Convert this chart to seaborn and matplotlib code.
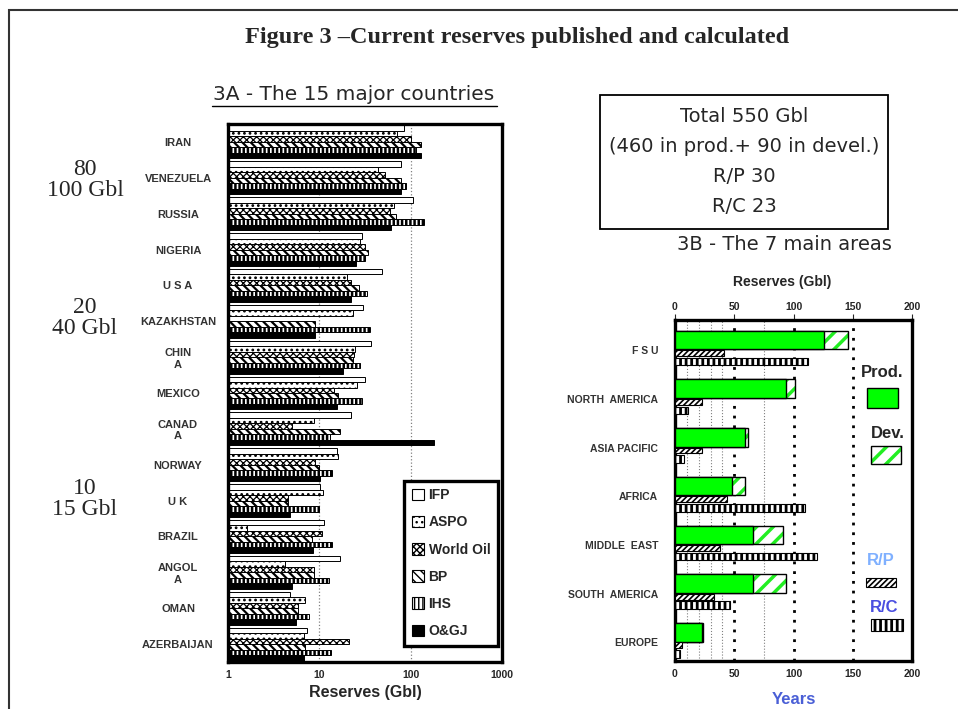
import numpy as np
import pandas as pd
import matplotlib.pyplot as plt
import seaborn as sns
from matplotlib.patches import Patch, Rectangle
from matplotlib.lines import Line2D

# ------------------------------
# Data - 3A: reserves of the 15 major countries (Gbl), per source
# ------------------------------
countries = ["IRAN", "VENEZUELA", "RUSSIA", "NIGERIA", "U S A", "KAZAKHSTAN", "CHIN\nA",
             "MEXICO", "CANAD\nA", "NORWAY", "U K", "BRAZIL", "ANGOL\nA", "OMAN", "AZERBAIJAN"]
sources = ["IFP", "ASPO", "World Oil", "BP", "IHS", "O&GJ"]

ifp = [85, 78, 105, 29, 48, 30, 37, 32, 22, 15.5, 10.2, 11.3, 17, 4.8, 7.3]
aspo = [70, 44, 66, 28, 20, 23.5, 24.5, 26, 8.7, 16, 11, 1.6, 4.2, 6.9, 6.8]
world_oil = [100, 52, 59, 32, 22, np.nan, 24, 14.5, 5, 9, 4.5, 10.7, 8.7, 5.8, 21]
bp = [130, 78, 69, 34, 27, 9, 23.5, 16, 17, 9.8, 4.5, 8.3, 8.7, 5.8, 6.9]
ihs = [115, 90, 140, 32, 33, 36, 28, 29, 13, 13.7, 9.8, 13.9, 12.9, 7.8, 13.4]
ogj = [130, 78, 61, 25, 22, 9, 18.3, 15.5, 178, 10.2, 4.8, 8.5, 5, 5.6, 6.8]

# ------------------------------
# Data - 3B: the 7 main areas
# ------------------------------
areas = ["F S U", "NORTH  AMERICA", "ASIA PACIFIC", "AFRICA", "MIDDLE  EAST", "SOUTH  AMERICA", "EUROPE"]
prod = [126, 94, 59, 48, 66, 66, 23]
dev = [20, 7, 3, 11, 25, 28, 1]
rp = [41, 23, 23, 44, 38, 33, 6]
rc = [112, 11, 8, 110, 120, 46, 4]

series = dict(zip(sources, [ifp, aspo, world_oil, bp, ihs, ogj]))
df = pd.DataFrame([(c, s, v[i]) for s, v in series.items() for i, c in enumerate(countries)],
                  columns=["country", "source", "value"])

sns.set_style("white")
plt.rcParams['font.family'] = ['Liberation Sans', 'DejaVu Sans']
plt.rcParams['hatch.linewidth'] = 1.0

W, H = 958, 709
fig = plt.figure(figsize=(W / 100, H / 100), dpi=100)

def fx(x):
    return x / W

def fy(y):
    return 1 - y / H

def hatch_lw(artist, lw):
    if hasattr(artist, "set_hatch_linewidth"):
        artist.set_hatch_linewidth(lw)

# ------------------------------
# 3A - horizontal grouped bars, log scale
# ------------------------------
ax1 = fig.add_axes([fx(228), fy(662), 274 / W, 538 / H])
face = {"IFP": "white", "ASPO": "white", "World Oil": "white", "BP": "white", "IHS": "white", "O&GJ": "black"}
hatch = {"IFP": None, "ASPO": "...", "World Oil": "xxxxx", "BP": "\\\\\\\\", "IHS": "||||", "O&GJ": None}
hlw = {"IFP": 1.0, "ASPO": 1.2, "World Oil": 0.9, "BP": 1.6, "IHS": 1.8, "O&GJ": 1.0}

sns.barplot(data=df, x="value", y="country", hue="source", order=countries, hue_order=sources,
            palette=face, orient="h", width=0.92, saturation=1, edgecolor="black", linewidth=0.7,
            errorbar=None, legend=False, ax=ax1)
for cont, s in zip(ax1.containers, sources):
    for bar in cont:
        bar.set_hatch(hatch[s])
        bar.set_facecolor(face[s])
        hatch_lw(bar, hlw[s])

ax1.set_xscale("log")
ax1.set_xlim(1, 1000)
ax1.set_ylim(len(countries) - 0.5, -0.5)
ax1.set_xticks([1, 10, 100, 1000], ["1", "10", "100", "1000"])
ax1.xaxis.set_minor_locator(plt.NullLocator())
ax1.set_yticks(range(len(countries)))
ax1.set_yticklabels(countries, ha="center", multialignment="center", fontsize=8, fontweight="bold",
                    color="#333333")
ax1.tick_params(axis="y", length=0, pad=36)
ax1.tick_params(axis="x", length=0, pad=6, labelsize=7.5)
for lbl in ax1.get_xticklabels():
    lbl.set_fontweight("bold")
ax1.set_xlabel("Reserves (Gbl)", fontsize=11.5, fontweight="bold", labelpad=3)
ax1.set_ylabel("")
ax1.grid(axis="x", which="major", ls=":", color="grey", lw=0.9)
ax1.set_axisbelow(True)
for sp in ax1.spines.values():
    sp.set_linewidth(2.4)
    sp.set_color("black")

handles = [Patch(facecolor=face[s], edgecolor="black", hatch=hatch[s], lw=0.8, label=s) for s in sources]
leg = ax1.legend(handles=handles, loc="lower right", bbox_to_anchor=(0.985, 0.03), fancybox=False,
                 framealpha=1, edgecolor="black", prop={"weight": "bold", "size": 10},
                 handlelength=0.9, handleheight=0.9, handletextpad=0.3, labelspacing=0.95,
                 borderpad=0.55, borderaxespad=0)
leg.get_frame().set_linewidth(2.4)

# ------------------------------
# 3B - production / development / ratios
# ------------------------------
ax2 = fig.add_axes([fx(675), fy(661), 237 / W, 341 / H])
ypos = np.arange(len(areas))
total = np.add(prod, dev)

plt.rcParams['hatch.linewidth'] = 2.5
dev_bars = ax2.barh(ypos - 0.09, total, height=0.38, color="white", edgecolor="#22ee22", hatch="//", lw=0, zorder=2)
ax2.barh(ypos - 0.09, total, height=0.38, fill=False, edgecolor="black", lw=1, zorder=3)
ax2.barh(ypos - 0.09, prod, height=0.38, color="#00ff00", edgecolor="black", lw=1, zorder=3)
plt.rcParams['hatch.linewidth'] = 1.2
rp_bars = ax2.barh(ypos + 0.18, rp, height=0.12, color="white", edgecolor="black", hatch="//////", lw=0.8, zorder=3)
plt.rcParams['hatch.linewidth'] = 2.0
rc_bars = ax2.barh(ypos + 0.355, rc, height=0.155, color="white", edgecolor="black", hatch="|||", lw=0.8, zorder=3)

for bars, lw in [(dev_bars, 2.5), (rp_bars, 1.2), (rc_bars, 2.0)]:
    for b in bars:
        hatch_lw(b, lw)

ax2.set_xlim(0, 200)
ax2.set_ylim(len(areas) - 0.5, -0.5)
ax2.set_xticks([0, 50, 100, 150, 200])
ax2.set_xticks([10, 20, 30, 40, 75], minor=True)
ax2.set_yticks(ypos + 0.12)
ax2.set_yticklabels(areas, fontsize=7.5, fontweight="bold", color="#333333")
ax2.tick_params(axis="y", length=0, pad=12)
ax2.tick_params(axis="x", which="major", top=True, labeltop=True, bottom=False, length=4,
                labelsize=7.5, pad=2)
ax2.tick_params(axis="x", which="minor", length=0)
for lbl in ax2.get_xticklabels():
    lbl.set_fontweight("bold")
ax2.grid(axis="x", which="major", ls=(0, (1, 2.5)), color="black", lw=2)
ax2.grid(axis="x", which="minor", ls=":", color="grey", lw=0.8)
ax2.set_axisbelow(True)
for sp in ax2.spines.values():
    sp.set_linewidth(2.4)
    sp.set_color("black")
ax2.set_xlabel("Years", fontsize=12, fontweight="bold", color="#4a5fd6", labelpad=9)
ax2.text(0.453, 1.112, "Reserves (Gbl)", transform=ax2.transAxes, ha="center", va="center",
         fontsize=10, fontweight="bold")

# right-hand legend
ax2.text(0.876, 0.845, "Prod.", transform=ax2.transAxes, ha="center", va="center", fontsize=12, fontweight="bold")
ax2.add_patch(Rectangle((0.809, 0.741), 0.131, 0.059, transform=ax2.transAxes, facecolor="#00ff00",
                        edgecolor="black", lw=1, zorder=5))
ax2.text(0.897, 0.668, "Dev.", transform=ax2.transAxes, ha="center", va="center", fontsize=12, fontweight="bold")
plt.rcParams['hatch.linewidth'] = 2.5
dev_key = Rectangle((0.829, 0.5785), 0.124, 0.051, transform=ax2.transAxes, facecolor="white",
                    edgecolor="#22ee22", hatch="//", lw=0, zorder=5)
ax2.add_patch(dev_key)
ax2.add_patch(Rectangle((0.829, 0.5785), 0.124, 0.051, transform=ax2.transAxes, fill=False,
                        edgecolor="black", lw=1, zorder=6))
ax2.text(0.869, 0.294, "R/P", transform=ax2.transAxes, ha="center", va="center", fontsize=12,
         fontweight="bold", color="#7fb0ff")
plt.rcParams['hatch.linewidth'] = 1.2
rp_key = Rectangle((0.805, 0.2176), 0.128, 0.0256, transform=ax2.transAxes, facecolor="white",
                   edgecolor="black", hatch="//////", lw=0.8, zorder=5)
ax2.add_patch(rp_key)
ax2.text(0.883, 0.157, "R/C", transform=ax2.transAxes, ha="center", va="center", fontsize=12,
         fontweight="bold", color="#4a4ee0")
plt.rcParams['hatch.linewidth'] = 2.0
rc_key = Rectangle((0.826, 0.088), 0.134, 0.034, transform=ax2.transAxes, facecolor="white",
                   edgecolor="black", hatch="|||", lw=0.8, zorder=5)
ax2.add_patch(rc_key)
for key, lw in [(dev_key, 2.5), (rp_key, 1.2), (rc_key, 2.0)]:
    hatch_lw(key, lw)

# ------------------------------
# Titles, notes, frames
# ------------------------------
fig.text(fx(517), fy(38), "Figure 3 \u2013Current reserves published and calculated", ha="center", va="center",
         fontsize=17.5, fontweight="bold", family="Liberation Serif")
fig.text(fx(354), fy(95), "3A - The 15 major countries", ha="center", va="center", fontsize=14.5,
         family="DejaVu Sans")
fig.add_artist(Line2D([fx(212), fx(497)], [fy(106), fy(106)], transform=fig.transFigure, color="black", lw=1))
fig.text(fx(784), fy(244), "3B - The 7 main areas", ha="center", va="center", fontsize=14,
         family="DejaVu Sans")

fig.add_artist(Rectangle((fx(600), fy(229)), 288 / W, 134 / H, transform=fig.transFigure, fill=False,
                         edgecolor="black", lw=1.3))
for txt, y in [("Total 550 Gbl", 117), ("(460 in prod.+ 90 in devel.)", 147), ("R/P 30", 177), ("R/C 23", 207)]:
    fig.text(fx(744), fy(y), txt, ha="center", va="center", fontsize=14, family="DejaVu Sans")

for txt, y in [("80\n100 Gbl", 180), ("20\n40 Gbl", 318), ("10\n15 Gbl", 499)]:
    fig.text(fx(85), fy(y), txt, ha="center", va="center", fontsize=17, family="Liberation Serif",
             linespacing=1.05)

fig.add_artist(Rectangle((fx(9), -0.05), 1.0, fy(10) + 0.05, transform=fig.transFigure, fill=False,
                         edgecolor="#333333", lw=1.5))

fig.savefig("out.png", dpi=100)
